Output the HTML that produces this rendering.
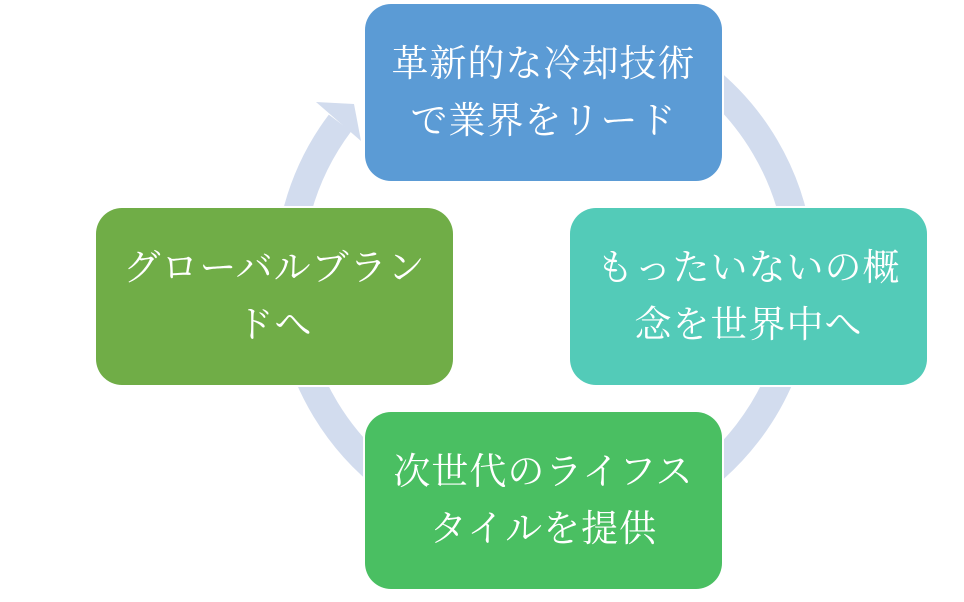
<!DOCTYPE html>
<html><head><meta charset="utf-8"><style>
html,body{margin:0;padding:0;background:#fff;}
body{width:964px;height:602px;position:relative;overflow:hidden;}
svg{position:absolute;left:0;top:0;}
.b{position:absolute;width:357px;height:177px;border-radius:26px;color:#fff;box-shadow:0 0 0 2px #fff;
font-family:"Liberation Serif","Noto Serif CJK SC",serif;font-size:37px;line-height:57px;
text-align:center;display:flex;align-items:center;justify-content:center;letter-spacing:1px;}
</style></head><body>
<svg width="964" height="602">
<path d="M702,75 A256,256 0 1 1 340,123" fill="none" stroke="#D2DCEE" stroke-width="28"/>
<polygon points="316,102 354,104 361,141" fill="#D2DCEE"/>
</svg>
<div class="b" style="left:365px;top:4px;background:#5B9BD5;">革新的な冷却技術<br>で業界をリード</div>
<div class="b" style="left:570px;top:208px;background:#53CBB8;">もったいないの概<br>念を世界中へ</div>
<div class="b" style="left:365px;top:412px;background:#4ABF62;">次世代のライフス<br>タイルを提供</div>
<div class="b" style="left:96px;top:208px;background:#70AD47;">グローバルブラン<br>ドへ</div>
</body></html>
